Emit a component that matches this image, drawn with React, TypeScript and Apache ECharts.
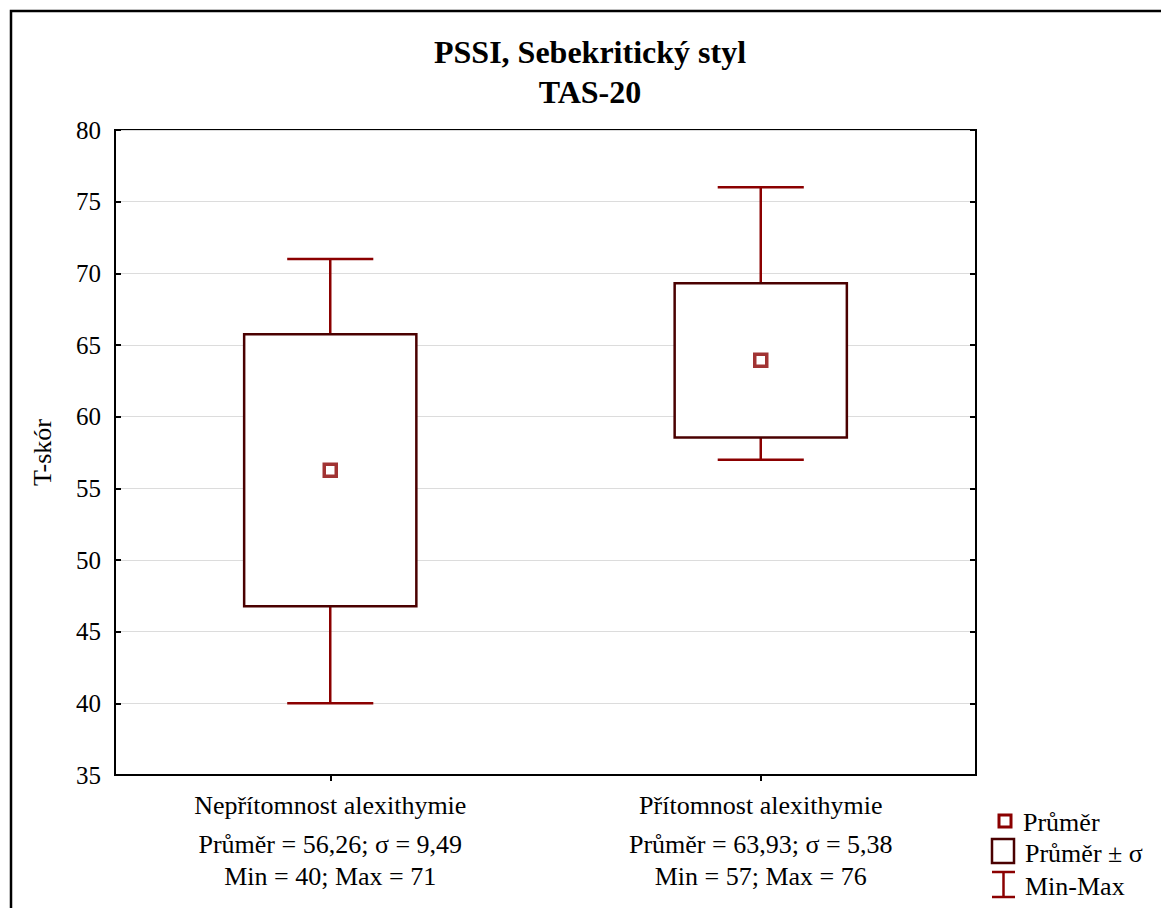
import React, { useEffect, useRef } from "react";
import * as echarts from "echarts";

const titleLines = ["PSSI, Sebekritický styl", "TAS-20"];
const yAxisName = "T-skór";
const categories = ["Nepřítomnost alexithymie", "Přítomnost alexithymie"];
const means = [56.26, 63.93];
const sds = [9.49, 5.38];
const mins = [40, 57];
const maxs = [71, 76];
const yMin = 35;
const yMax = 80;
const yInterval = 5;
const legendLabels = ["Průměr", "Průměr ± σ", "Min-Max"];

const MEAN_COLOR = "#8a0000";
const BOX_COLOR = "#4a0000";
const WHISKER_COLOR = "#8b0000";
const FONT = "'Liberation Serif', 'Times New Roman', serif";

const fmt = (v: number) => String(v).replace(".", ",");

export default function App() {
  const ref = useRef<HTMLDivElement>(null);
  useEffect(() => {
    if (!ref.current) return;
    const chart = echarts.init(ref.current, undefined, { renderer: "svg" });

    const boxData = categories.map((_, i) => [i, +(means[i] - sds[i]).toFixed(2), +(means[i] + sds[i]).toFixed(2)]);
    const whiskerData = categories.map((_, i) => [i, mins[i], maxs[i], boxData[i][1], boxData[i][2]]);
    const meanData = categories.map((_, i) => [i, means[i]]);

    const labelLines = categories.map(
      (c, i) =>
        `{a|${c}}\n{b|Průměr = ${fmt(means[i])}; σ = ${fmt(sds[i])}}\n{b|Min = ${mins[i]}; Max = ${maxs[i]}}`
    );

    const legendText = (text: string, x: number, y: number) => ({
      type: "text",
      x,
      y,
      style: { text, fontFamily: FONT, fontSize: 26, fill: "#000", verticalAlign: "middle" },
    });

    const option: any = {
      animation: false,
      backgroundColor: "#fff",
      textStyle: { fontFamily: FONT },
      grid: {
        left: 107,
        top: 122,
        right: 193,
        bottom: 133,
        show: true,
        borderColor: "#000",
        borderWidth: 2,
        backgroundColor: "transparent",
      },
      xAxis: {
        type: "category",
        data: categories,
        axisLine: { show: true, lineStyle: { color: "#000", width: 2 } },
        axisTick: { show: true, alignWithLabel: true, length: 6, lineStyle: { color: "#000", width: 2 } },
        axisLabel: {
          margin: 7,
          interval: 0,
          color: "#000",
          formatter: (_v: string, idx: number) => labelLines[idx],
          rich: {
            a: { fontFamily: FONT, fontSize: 26, color: "#000", lineHeight: 46, align: "center" },
            b: { fontFamily: FONT, fontSize: 26, color: "#000", lineHeight: 32, align: "center" },
          },
        },
        splitLine: { show: false },
      },
      yAxis: [
        {
          type: "value",
          min: yMin,
          max: yMax,
          interval: yInterval,
          name: yAxisName,
          nameLocation: "middle",
          nameGap: 60,
          nameRotate: 90,
          nameTextStyle: { fontFamily: FONT, fontSize: 26, color: "#000" },
          axisLine: { show: true, lineStyle: { color: "#000", width: 2 } },
          axisTick: { show: true, inside: true, length: 6, lineStyle: { color: "#000", width: 2 } },
          axisLabel: { fontFamily: FONT, fontSize: 25, color: "#000", margin: 14 },
          splitLine: { show: true, lineStyle: { color: "#dcdcdc", width: 1 } },
        },
        {
          type: "value",
          min: yMin,
          max: yMax,
          interval: yInterval,
          position: "right",
          axisLine: { show: true, lineStyle: { color: "#000", width: 2 } },
          axisTick: { show: true, inside: true, length: 6, lineStyle: { color: "#000", width: 2 } },
          axisLabel: { show: false },
          splitLine: { show: false },
        },
      ],
      series: [
        {
          name: legendLabels[2],
          type: "custom",
          data: whiskerData,
          z: 2,
          renderItem: (_params: any, api: any) => {
            const idx = api.value(0);
            const top = api.coord([idx, api.value(2)]);
            const bot = api.coord([idx, api.value(1)]);
            const hi = api.coord([idx, api.value(4)]);
            const lo = api.coord([idx, api.value(3)]);
            const bw = api.size([1, 0])[0];
            const cap = bw * 0.1;
            const style = { stroke: WHISKER_COLOR, lineWidth: 2.5, fill: "none" };
            return {
              type: "group",
              children: [
                { type: "line", shape: { x1: top[0], y1: top[1], x2: hi[0], y2: hi[1] }, style },
                { type: "line", shape: { x1: lo[0], y1: lo[1], x2: bot[0], y2: bot[1] }, style },
                { type: "line", shape: { x1: top[0] - cap, y1: top[1], x2: top[0] + cap, y2: top[1] }, style },
                { type: "line", shape: { x1: bot[0] - cap, y1: bot[1], x2: bot[0] + cap, y2: bot[1] }, style },
              ],
            };
          },
        },
        {
          name: legendLabels[1],
          type: "custom",
          data: boxData,
          z: 3,
          renderItem: (_params: any, api: any) => {
            const idx = api.value(0);
            const hi = api.coord([idx, api.value(2)]);
            const lo = api.coord([idx, api.value(1)]);
            const bw = api.size([1, 0])[0];
            const w = bw * 0.4;
            return {
              type: "rect",
              shape: { x: hi[0] - w / 2, y: hi[1], width: w, height: lo[1] - hi[1] },
              style: { stroke: BOX_COLOR, lineWidth: 2.5, fill: "#fff" },
            };
          },
        },
        {
          name: legendLabels[0],
          type: "scatter",
          data: meanData,
          z: 4,
          symbol: "rect",
          symbolSize: 12,
          itemStyle: { color: "#fff", borderColor: MEAN_COLOR, borderWidth: 3.5 },
        },
      ],
      graphic: [
        {
          type: "rect",
          shape: { x: 3, y: 3, width: 1300, height: 1100 },
          style: { fill: "none", stroke: "#000", lineWidth: 2.5 },
          silent: true,
          z: 100,
        },
        {
          type: "text",
          x: 582,
          y: 44,
          style: {
            text: titleLines[0],
            fontFamily: FONT,
            fontSize: 32,
            fontWeight: "bold",
            fill: "#000",
            align: "center",
            verticalAlign: "middle",
          },
        },
        {
          type: "text",
          x: 582,
          y: 84,
          style: {
            text: titleLines[1],
            fontFamily: FONT,
            fontSize: 32,
            fontWeight: "bold",
            fill: "#000",
            align: "center",
            verticalAlign: "middle",
          },
        },
        // legend
        {
          type: "rect",
          shape: { x: 991, y: 807, width: 12, height: 12 },
          style: { fill: "#fff", stroke: MEAN_COLOR, lineWidth: 3 },
        },
        legendText(legendLabels[0], 1015, 814),
        {
          type: "rect",
          shape: { x: 984, y: 831, width: 22, height: 24 },
          style: { fill: "#fff", stroke: BOX_COLOR, lineWidth: 2.5 },
        },
        legendText(legendLabels[1], 1017, 845),
        {
          type: "line",
          shape: { x1: 984, y1: 864, x2: 1007, y2: 864 },
          style: { stroke: WHISKER_COLOR, lineWidth: 2.5 },
        },
        {
          type: "line",
          shape: { x1: 995.5, y1: 864, x2: 995.5, y2: 889 },
          style: { stroke: WHISKER_COLOR, lineWidth: 2.5 },
        },
        {
          type: "line",
          shape: { x1: 984, y1: 889, x2: 1007, y2: 889 },
          style: { stroke: WHISKER_COLOR, lineWidth: 2.5 },
        },
        legendText(legendLabels[2], 1017, 878),
      ],
    };
    chart.setOption(option);
    return () => chart.dispose();
  }, []);
  return <div ref={ref} style={{ width: 1161, height: 900 }} />;
}
